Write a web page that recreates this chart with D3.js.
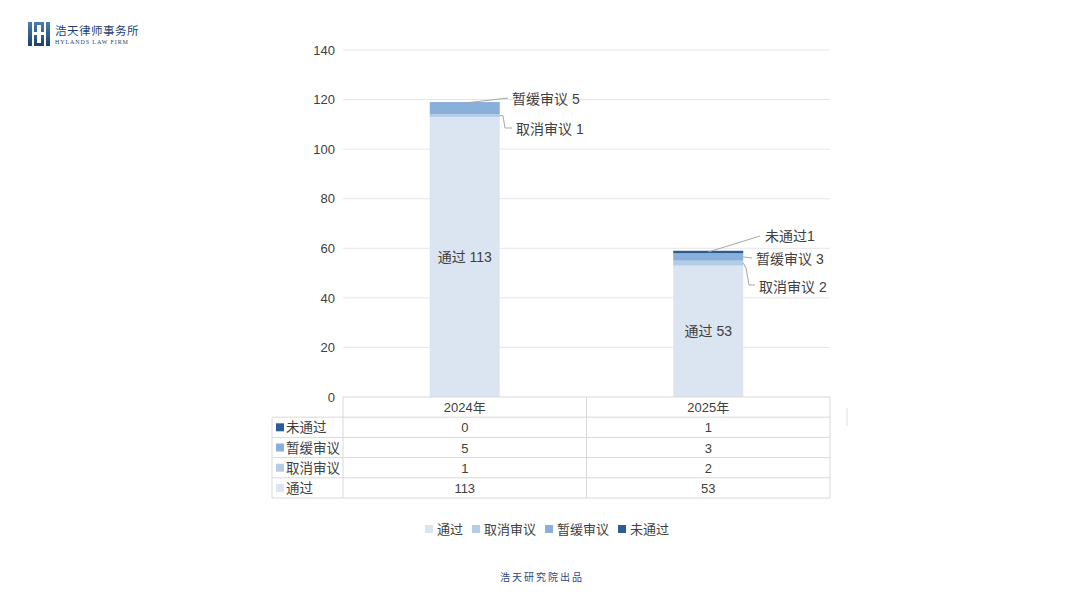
<!DOCTYPE html>
<html><head><meta charset="utf-8">
<script src="https://cdn.jsdelivr.net/npm/d3@7/dist/d3.min.js"></script>
<style>body{margin:0;background:#fff;font-family:"Liberation Sans","Noto Sans CJK SC",sans-serif}</style>
</head><body><svg id="c" width="1080" height="608"></svg>
<script>
const categories = ["2024年", "2025年"];
const seriesNames = ["通过", "取消审议", "暂缓审议", "未通过"];
const passed = [113, 53];
const cancelled = [1, 2];
const suspended = [5, 3];
const failed = [0, 1];
const yTicks = [0, 20, 40, 60, 80, 100, 120, 140];
const colors = ["#dae5f1", "#b5cce6", "#89b0da", "#2b5d93"];

const values = [passed, cancelled, suspended, failed];
const svg = d3.select("#c");
const font = '"Liberation Sans","Noto Sans CJK SC",sans-serif';
const txt = "#404040";

const plotL = 343, plotR = 830, plotT = 50, plotB = 397;
const y = d3.scaleLinear().domain([0, 140]).range([plotB, plotT]);
const x = d3.scaleBand().domain(categories).range([plotL, plotR]).paddingInner(0).paddingOuter(0);
const barW = 70;

svg.append("g").selectAll("line").data(yTicks.filter(t => t > 0)).join("line")
  .attr("x1", plotL).attr("x2", plotR).attr("y1", d => y(d)).attr("y2", d => y(d))
  .attr("stroke", "#e6e6e6").attr("stroke-width", 1);

const yAxis = d3.axisLeft(y).tickValues(yTicks).tickSize(0).tickPadding(8);
const ga = svg.append("g").attr("transform", `translate(${plotL},0)`).call(yAxis);
ga.select(".domain").remove();
ga.selectAll("text").attr("font-size", 13).attr("fill", txt).attr("font-family", font);

const rows = categories.map((c, i) => {
  const o = { cat: c };
  seriesNames.forEach((s, k) => o[s] = values[k][i]);
  return o;
});
const stack = d3.stack().keys(seriesNames)(rows);
const g = svg.append("g");
stack.forEach((layer, k) => {
  g.selectAll(null).data(layer).join("rect")
    .attr("x", d => x(d.data.cat) + x.bandwidth() / 2 - barW / 2)
    .attr("width", barW)
    .attr("y", d => y(d[1]))
    .attr("height", d => Math.max(0, y(d[0]) - y(d[1])))
    .attr("fill", colors[k]);
});

categories.forEach((c, i) => {
  svg.append("text").attr("x", x(c) + x.bandwidth() / 2).attr("y", y(passed[i] / 2) + 5)
    .attr("text-anchor", "middle").attr("font-size", 14).attr("fill", txt).attr("font-family", font)
    .text("通过 " + passed[i]);
});

function callout(pts, tx, ty, label) {
  svg.append("path").attr("d", d3.line()(pts)).attr("fill", "none").attr("stroke", "#a6a6a6").attr("stroke-width", 1);
  svg.append("text").attr("x", tx).attr("y", ty).attr("font-size", 14).attr("fill", txt)
    .attr("font-family", font).text(label);
}
const cx0 = x(categories[0]) + x.bandwidth() / 2, cx1 = x(categories[1]) + x.bandwidth() / 2;
const yMid = (i, k) => { const d = stack[k][i]; return y((d[0] + d[1]) / 2); };
callout([[cx0, y(passed[0] + cancelled[0] + suspended[0]) + 1], [508, 98]], 512, 104, "暂缓审议 " + suspended[0]);
callout([[cx0 + barW / 2, yMid(0, 1)], [503, yMid(0, 1)], [505, 128], [512, 128]], 516, 134, "取消审议 " + cancelled[0]);
callout([[cx1, yMid(1, 3)], [760, 236]], 765, 241, "未通过" + failed[1]);
callout([[cx1 + barW / 2, yMid(1, 2)], [752, 258]], 756, 264, "暂缓审议 " + suspended[1]);
callout([[cx1 + barW / 2, yMid(1, 1)], [746, 268], [749, 285], [755, 285]], 759, 292, "取消审议 " + cancelled[1]);

const tL = 272, rowH = 20.2;
const tbl = svg.append("g");
const stroke = "#d9d9d9";
tbl.append("line").attr("x1", plotL).attr("x2", plotR).attr("y1", plotB).attr("y2", plotB).attr("stroke", stroke);
const order = [3, 2, 1, 0];
const nRows = 1 + order.length;
for (let r = 1; r <= nRows; r++) {
  tbl.append("line").attr("x1", tL).attr("x2", plotR)
    .attr("y1", plotB + r * rowH).attr("y2", plotB + r * rowH).attr("stroke", stroke);
}
tbl.append("line").attr("x1", tL).attr("x2", tL).attr("y1", plotB + rowH).attr("y2", plotB + nRows * rowH).attr("stroke", stroke);
[plotL, x(categories[1]), plotR].forEach(xx => {
  tbl.append("line").attr("x1", xx).attr("x2", xx).attr("y1", plotB).attr("y2", plotB + nRows * rowH).attr("stroke", stroke);
});
categories.forEach((c, i) => {
  tbl.append("text").attr("x", x(c) + x.bandwidth() / 2).attr("y", plotB + rowH / 2 + 5)
    .attr("text-anchor", "middle").attr("font-size", 13).attr("fill", txt).attr("font-family", font).text(c);
});
order.forEach((k, r) => {
  const ry = plotB + (r + 1) * rowH;
  tbl.append("rect").attr("x", tL + 4).attr("y", ry + rowH / 2 - 4).attr("width", 8).attr("height", 8).attr("fill", colors[k]);
  tbl.append("text").attr("x", tL + 14).attr("y", ry + rowH / 2 + 5).attr("font-size", 13.5).attr("fill", txt)
    .attr("font-family", font).text(seriesNames[k]);
  categories.forEach((c, i) => {
    tbl.append("text").attr("x", x(c) + x.bandwidth() / 2).attr("y", ry + rowH / 2 + 5)
      .attr("text-anchor", "middle").attr("font-size", 13).attr("fill", txt).attr("font-family", font)
      .text(values[k][i]);
  });
});

const leg = svg.append("g");
let lx = 425;
const legY = 529;
seriesNames.forEach((s, k) => {
  leg.append("rect").attr("x", lx).attr("y", legY - 4).attr("width", 8).attr("height", 8).attr("fill", colors[k]);
  const t = leg.append("text").attr("x", lx + 12).attr("y", legY + 5).attr("font-size", 13).attr("fill", txt)
    .attr("font-family", font).text(s);
  lx += 12 + t.node().getComputedTextLength() + 9;
});

svg.append("line").attr("x1", 847).attr("x2", 847).attr("y1", 408).attr("y2", 426).attr("stroke", "#e0e0e0");

const logo = svg.append("g");
const grad = svg.append("defs").append("linearGradient").attr("id", "lg").attr("x1", 0).attr("y1", 0).attr("x2", 0).attr("y2", 1);
grad.append("stop").attr("offset", 0).attr("stop-color", "#4a7fae");
grad.append("stop").attr("offset", 1).attr("stop-color", "#1c3f6e");
logo.append("path").attr("d", "M28,22 h4 v24 h-4 Z M46,22 h4 v24 h-4 Z").attr("fill", "url(#lg)");
logo.append("path").attr("d", "M34,22 h10 v10 h-3 v-7 h-4 v7 h-3 Z M34,35 h3 v8 h4 v-8 h3 v11 h-10 Z").attr("fill", "url(#lg)");
logo.append("text").attr("x", 55).attr("y", 35).attr("font-size", 11.5).attr("fill", "#1f3f73")
  .attr("font-family", '"Noto Sans CJK SC",sans-serif').attr("letter-spacing", 0.5).text("浩天律师事务所");
logo.append("text").attr("x", 55).attr("y", 44).attr("font-size", 6).attr("fill", "#1f3f73")
  .attr("font-family", '"Liberation Serif",serif').attr("letter-spacing", 0.9).text("HYLANDS LAW FIRM");

svg.append("text").attr("x", 542).attr("y", 581).attr("text-anchor", "middle").attr("font-size", 10)
  .attr("fill", "#2a4a80").attr("font-family", '"Noto Sans CJK SC",sans-serif').attr("letter-spacing", 2).text("浩天研究院出品");
</script></body></html>
